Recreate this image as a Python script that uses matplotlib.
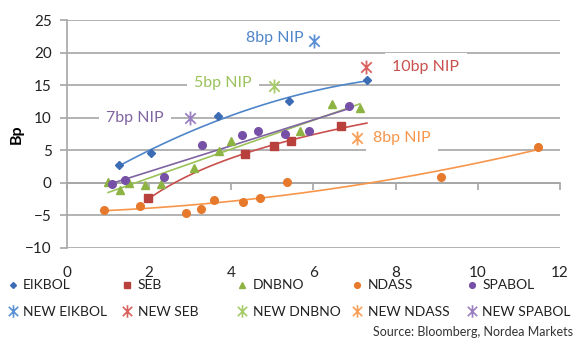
import numpy as np
import matplotlib.pyplot as plt
from matplotlib.path import Path
from matplotlib.lines import Line2D

plt.rcParams["font.family"] = ["Lato", "DejaVu Sans"]

# existing curves: years to maturity vs spread (bp)
eikbol_x = [1.27, 2.05, 3.67, 5.40, 7.31]
eikbol_y = [2.8, 4.6, 10.3, 12.6, 15.8]

seb_x = [1.98, 4.34, 5.04, 5.46, 6.67]
seb_y = [-2.4, 4.5, 5.65, 6.4, 8.7]

dnbno_x = [1.00, 1.28, 1.52, 1.89, 2.29, 3.10, 3.69, 3.99, 5.68, 6.45, 7.13]
dnbno_y = [0.1, -1.05, -0.05, -0.3, -0.15, 2.3, 4.85, 6.5, 7.9, 12.1, 11.5]

ndass_x = [0.90, 1.78, 2.90, 3.27, 3.57, 4.28, 4.71, 5.36, 9.10, 11.46]
ndass_y = [-4.1, -3.5, -4.6, -4.0, -2.7, -3.0, -2.4, 0.1, 0.85, 5.5]

spabol_x = [1.09, 1.40, 2.35, 3.28, 4.26, 4.65, 5.30, 5.90, 6.87]
spabol_y = [-0.2, 0.45, 0.95, 5.75, 7.4, 8.0, 7.5, 7.9, 11.8]

# new issues
new_x = [6.02, 7.28, 5.03, 7.05, 3.00]
new_y = [21.8, 17.8, 14.9, 6.9, 10.0]
nip_labels = ["8bp NIP", "10bp NIP", "5bp NIP", "8bp NIP", "7bp NIP"]

names = ["EIKBOL", "SEB", "DNBNO", "NDASS", "SPABOL"]
mark_col = ["#3C6DB4", "#B8403D", "#8DB443", "#E6792B", "#7650A6"]
line_col = ["#4F86C9", "#C8504D", "#9BC25A", "#F7964A", "#8064A2"]
new_col = ["#5B90D6", "#D9625E", "#A6CB68", "#F9A05A", "#9A80C0"]
markers = ["D", "s", "^", "o", "o"]
msizes = [4, 6, 6, 5.5, 5.5]

# Excel style star: X with a vertical bar
star = Path([(0, -1), (0, 1), (-0.75, -0.75), (0.75, 0.75),
             (-0.75, 0.75), (0.75, -0.75)],
            [Path.MOVETO, Path.LINETO, Path.MOVETO, Path.LINETO,
             Path.MOVETO, Path.LINETO])


def trend(x, y, kind, x_end=None):
    x = np.asarray(x)
    y = np.asarray(y)
    xs = np.linspace(x.min(), x.max() if x_end is None else x_end, 100)
    if kind == "log":
        c = np.polyfit(np.log(x), y, 1)
        return xs, np.polyval(c, np.log(xs))
    if kind == "poly2":
        c = np.polyfit(x, y, 2)
        return xs, np.polyval(c, xs)
    c = np.polyfit(x, y, 1)
    return xs, np.polyval(c, xs)


fig = plt.figure(figsize=(5.74, 3.42), dpi=100)
ax = fig.add_axes([0.1167, 0.2749, 0.8589, 0.6666])

series = [(eikbol_x, eikbol_y, "poly2", None),
          (seb_x, seb_y, "log", 7.3),
          (dnbno_x, dnbno_y, "lin", None),
          (ndass_x, ndass_y, "poly2", None),
          (spabol_x, spabol_y, "lin", None)]

for i, (x, y, kind, x_end) in enumerate(series):
    tx, ty = trend(x, y, kind, x_end)
    ax.plot(tx, ty, color=line_col[i], lw=1.2, zorder=3)
    ax.plot(x, y, linestyle="none", marker=markers[i], ms=msizes[i],
            color=mark_col[i], zorder=4)
    ax.plot(new_x[i], new_y[i], linestyle="none", marker=star, ms=10,
            mew=1.3, color=new_col[i], zorder=5)

# NIP labels next to the new issues (offsets in points)
offsets = [(-8, 2, "right"), (19, 0, "left"), (-16, 2, "right"),
           (12, 0, "left"), (-19, 0, "right")]
for i, (dx, dy, ha) in enumerate(offsets):
    ax.annotate(nip_labels[i], (new_x[i], new_y[i]), xytext=(dx, dy),
                textcoords="offset points", ha=ha, va="center",
                fontsize=11.5, color=line_col[i], zorder=4,
                bbox=dict(boxstyle="square,pad=0.45", fc="white", ec="none"))

grid_col = "#A6A6A6"
ax.set_xlim(0, 12)
ax.set_ylim(-10, 25)
ax.set_xticks(range(0, 13, 2))
ax.set_yticks(range(-10, 26, 5))
ax.grid(axis="y", color=grid_col, lw=1.2)
ax.set_axisbelow(True)
for side in ["top", "right", "bottom"]:
    ax.spines[side].set_visible(False)
ax.spines["left"].set_color(grid_col)
ax.spines["left"].set_linewidth(1.2)
ax.tick_params(axis="x", length=0, pad=13, labelsize=11, colors="#222222")
ax.tick_params(axis="y", length=5, width=1.2, color=grid_col, pad=6,
               labelsize=11, labelcolor="#222222")

# zero line carrying the x tick marks
zero = ax.secondary_xaxis(10 / 35)
zero.set_xticks(range(0, 13, 2))
zero.tick_params(length=5, width=1.2, color=grid_col, labelbottom=False)
zero.spines["bottom"].set_color(grid_col)
zero.spines["bottom"].set_linewidth(1.2)

ax.set_ylabel("Bp", fontsize=11.5, fontweight="bold")
ax.yaxis.set_label_coords(-0.088, 0.5)

# legend: five columns, old issue above new issue
col_x = [0.010, 0.210, 0.410, 0.610, 0.810]
for i in range(5):
    h = [Line2D([], [], linestyle="none", marker=markers[i],
                ms=msizes[i] * 0.75, color=mark_col[i]),
         Line2D([], [], linestyle="none", marker=star, ms=9, mew=1.2,
                color=new_col[i])]
    leg = fig.legend(h, [names[i], "NEW " + names[i]], loc="upper left",
                     bbox_to_anchor=(col_x[i], 0.183), frameon=False,
                     fontsize=10, handlelength=1.0, handletextpad=0.25,
                     labelspacing=1.05, borderpad=0, borderaxespad=0)
    for t in leg.get_texts():
        t.set_color("#222222")

fig.text(0.998, 0.012, "Source: Bloomberg, Nordea Markets", ha="right",
         va="bottom", fontsize=9, color="#333333")

fig.savefig("out.png", dpi=100)
